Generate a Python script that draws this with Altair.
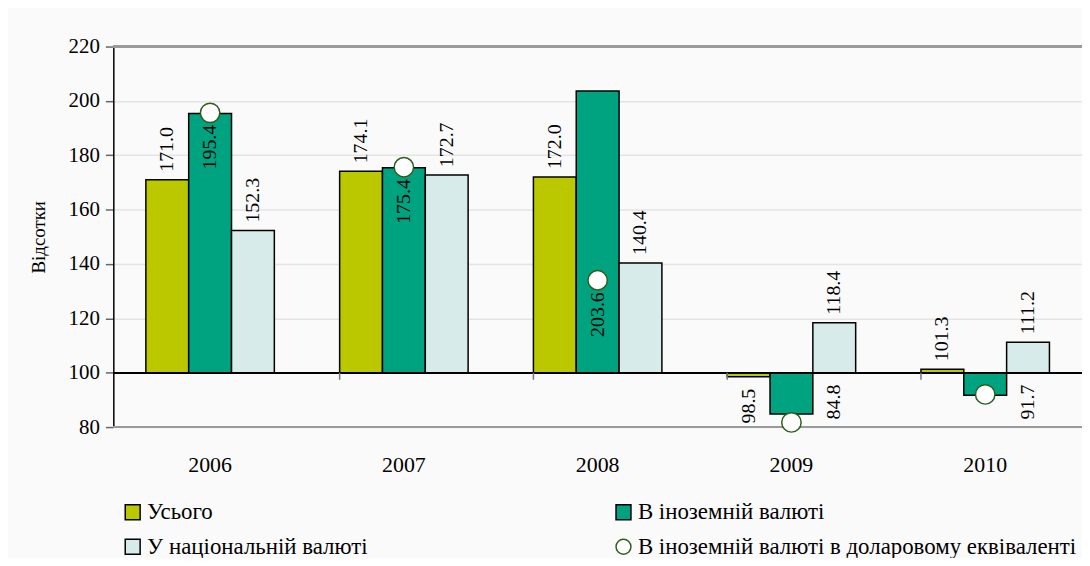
import altair as alt
import pandas as pd

# ---------------- data ----------------
years = ["2006", "2007", "2008", "2009", "2010"]
series = [
    "Усього",
    "В іноземній валюті",
    "У національній валюті",
    "В іноземній валюті в доларовому еквіваленті",
]
total = [171.0, 174.1, 172.0, 98.5, 101.3]
foreign = [195.4, 175.4, 203.6, 84.8, 91.7]
national = [152.3, 172.7, 140.4, 118.4, 111.2]
foreign_usd = [195.6, 175.6, 134.0, 81.7, 92.0]
y_ticks = [80, 100, 120, 140, 160, 180, 200, 220]

# legend order (filled column by column): Усього, У національній, В іноземній, доларовий
legend_order = [series[0], series[2], series[1], series[3]]
colors = ["#BBC800", "#D7EBEA", "#00A37F", "#FFFFFF"]
strokes = ["#000000", "#000000", "#000000", "#2E5E1E"]
shapes = ["square", "square", "square", "circle"]
FONT = "Liberation Serif"
BASE = 100

# ---------------- tables ----------------
bar_rows, lab_rows, pt_rows = [], [], []
for i, yr in enumerate(years):
    for s, vals in zip(series[:3], [total, foreign, national]):
        v = vals[i]
        bar_rows.append({"year": yr, "series": s, "value": v})
        if s == series[1]:
            if v >= BASE:
                lab_rows.append({"year": yr, "slot": s, "anchor": foreign_usd[i],
                                 "side": "down", "text": f"{v:.1f}"})
            else:
                lab_rows.append({"year": yr, "slot": series[2], "anchor": BASE,
                                 "side": "down", "text": f"{v:.1f}"})
        else:
            lab_rows.append({"year": yr, "slot": s, "anchor": v,
                             "side": "up" if v >= BASE else "down",
                             "text": f"{v:.1f}"})
    pt_rows.append({"year": yr, "series": series[3], "slot": series[1],
                    "value": foreign_usd[i]})

bars_df = pd.DataFrame(bar_rows)
labs_df = pd.DataFrame(lab_rows)
pts_df = pd.DataFrame(pt_rows)
ticks_df = pd.DataFrame({"year": years[1:]})

# ---------------- scales ----------------
x_scale = alt.Scale(domain=years, paddingInner=0.337, paddingOuter=0.168)
y_scale = alt.Scale(domain=[80, 220], nice=False, zero=False)
off_scale = alt.Scale(domain=series[:3])
color_scale = alt.Scale(domain=legend_order, range=colors)
stroke_scale = alt.Scale(domain=legend_order, range=strokes)
shape_scale = alt.Scale(domain=legend_order, range=shapes)

x_enc = alt.X(
    "year:N", scale=x_scale,
    axis=alt.Axis(title=None, labelAngle=0, ticks=False, domain=False,
                  labelPadding=28, labelFontSize=22, labelFont=FONT,
                  labelColor="#000000", grid=False),
)
y_axis = alt.Axis(
    title="Відсотки", values=y_ticks, grid=True, gridColor="#e4e4e4",
    gridWidth=1.5, domainColor="#000000", domainWidth=1.5,
    tickColor="#666666", tickSize=8, tickWidth=1.5, labelPadding=6,
    labelFontSize=21, labelFont=FONT, labelColor="#000000",
    titleFontSize=19, titleFont=FONT, titleFontWeight="normal",
    titleColor="#000000", titlePadding=20,
)

legend = alt.Legend(
    title=None, orient="none", legendX=8, legendY=457, columns=2,
    columnPadding=246, rowPadding=11, labelFontSize=23, labelFont=FONT,
    labelColor="#000000", symbolSize=225, symbolStrokeWidth=1.5,
    labelOffset=3, padding=0, labelLimit=600,
)

bars = alt.Chart(bars_df).mark_bar(strokeWidth=1.5).encode(
    x=x_enc,
    xOffset=alt.XOffset("series:N", scale=off_scale),
    y=alt.Y("value:Q", scale=y_scale, axis=y_axis),
    y2=alt.datum(BASE),
    color=alt.Color("series:N", scale=color_scale, legend=legend),
    stroke=alt.Stroke("series:N", scale=stroke_scale, legend=legend),
)

points = alt.Chart(pts_df).mark_point(filled=True, size=380, strokeWidth=1.5,
                                      opacity=1).encode(
    x=alt.X("year:N", scale=x_scale),
    xOffset=alt.XOffset("slot:N", scale=off_scale),
    y=alt.Y("value:Q", scale=y_scale),
    color=alt.Color("series:N", scale=color_scale, legend=legend),
    stroke=alt.Stroke("series:N", scale=stroke_scale, legend=legend),
    shape=alt.Shape("series:N", scale=shape_scale, legend=legend),
)

lab_up = alt.Chart(labs_df).transform_filter(alt.datum.side == "up").mark_text(
    angle=270, align="left", baseline="middle", dx=8, fontSize=20,
    font=FONT, color="#000000",
).encode(
    x=alt.X("year:N", scale=x_scale),
    xOffset=alt.XOffset("slot:N", scale=off_scale),
    y=alt.Y("anchor:Q", scale=y_scale),
    text="text:N",
)

lab_down = alt.Chart(labs_df).transform_filter(alt.datum.side == "down").mark_text(
    angle=270, align="right", baseline="middle", dx=-12, fontSize=20,
    font=FONT, color="#000000",
).encode(
    x=alt.X("year:N", scale=x_scale),
    xOffset=alt.XOffset("slot:N", scale=off_scale),
    y=alt.Y("anchor:Q", scale=y_scale),
    text="text:N",
)

base_rule = alt.Chart(bars_df).mark_rule(color="#000000", strokeWidth=1.5).encode(
    y=alt.datum(BASE)
)
top_rule = alt.Chart(bars_df).mark_rule(color="#9a9a9a", strokeWidth=2).encode(
    y=alt.datum(220)
)
bottom_rule = alt.Chart(bars_df).mark_rule(color="#9a9a9a", strokeWidth=2).encode(
    y=alt.datum(80)
)
tick_rules = alt.Chart(ticks_df).mark_rule(color="#777777", strokeWidth=1.5).encode(
    x=alt.X("year:N", scale=x_scale, bandPosition=0),
    y=alt.datum(BASE),
    y2=alt.datum(97.4),
)

chart = alt.layer(
    top_rule, bottom_rule, bars, base_rule, tick_rules, points, lab_up, lab_down
).properties(
    width=975, height=383,
    autosize=alt.AutoSizeParams(type="none"),
    padding={"left": 106, "top": 37, "right": 0, "bottom": 130},
    background="#fafafa",
).configure(
    font=FONT
).configure_view(
    stroke=None
).configure_legend(
    labelFont=FONT, labelFontSize=23, labelColor="#000000"
).configure_text(
    font=FONT
)

chart.save("out.html", embed_options={"renderer": "svg", "actions": False})
